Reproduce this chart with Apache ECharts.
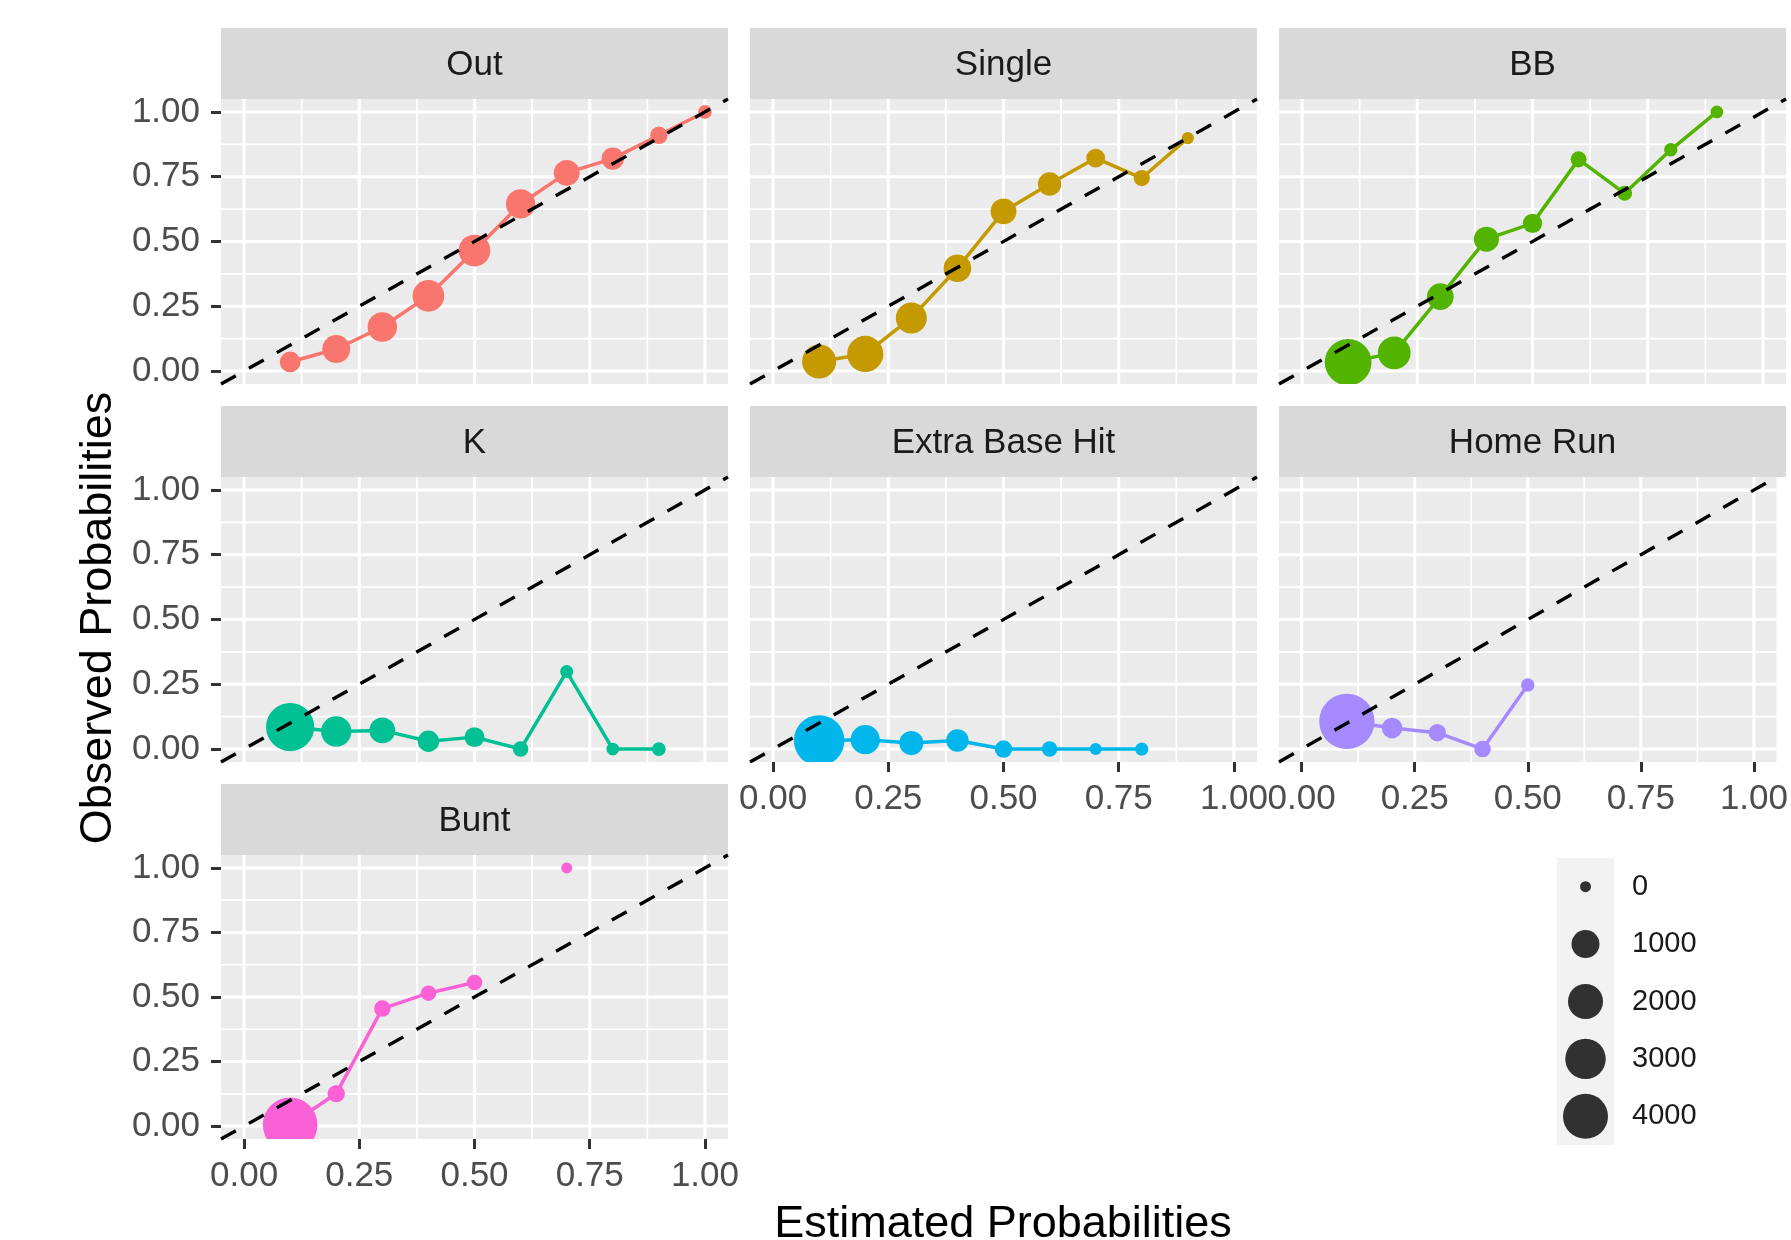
<!DOCTYPE html>
<html>
<head>
<meta charset="utf-8">
<title>Calibration of predicted plate-appearance outcomes</title>
<script src="https://cdn.jsdelivr.net/npm/echarts@6/dist/echarts.min.js"></script>
<style>
  html, body { margin: 0; padding: 0; background: #ffffff; }
  #chart { width: 1791px; height: 1240px; }
</style>
</head>
<body>
<div id="chart"></div>
<script>
// ---- data: estimated-probability bins, observed rate and count per bin ----
const estimatedBins = [0.1, 0.2, 0.3, 0.4, 0.5, 0.6, 0.7, 0.8, 0.9, 1.0];

const outObserved    = [0.035, 0.085, 0.17, 0.29, 0.465, 0.645, 0.765, 0.82, 0.91, 1.0];
const outCounts      = [330, 990, 1170, 1480, 1480, 1150, 760, 450, 140, 25];

const singleObserved = [0.037, 0.066, 0.205, 0.397, 0.616, 0.722, 0.822, 0.745, 0.899];
const singleCounts   = [1850, 2200, 1380, 950, 760, 530, 215, 95, 5];

const bbObserved     = [0.034, 0.07, 0.287, 0.509, 0.57, 0.817, 0.686, 0.854, 1.0];
const bbCounts       = [4400, 1630, 850, 680, 240, 87, 55, 20, 10];

const kObserved      = [0.085, 0.068, 0.072, 0.03, 0.046, 0.0, 0.299, 0.0, 0.0];
const kCounts        = [4790, 1290, 760, 375, 275, 70, 15, 10, 25];

const xbhObserved    = [0.033, 0.036, 0.023, 0.033, 0.0, 0.0, 0.0, 0.0];
const xbhCounts      = [5430, 1150, 595, 450, 140, 70, 4, 15];

const hrObserved     = [0.107, 0.081, 0.063, 0.0, 0.247];
const hrCounts       = [6800, 325, 140, 110, 20];

// the 0.6 bin is empty for bunts, so the line breaks there
const buntObserved   = [0.005, 0.126, 0.455, 0.515, 0.556, null, 1.0];
const buntCounts     = [6600, 140, 105, 70, 70, null, 0];

const outcomeNames  = ['Out', 'Single', 'BB', 'K', 'Extra Base Hit', 'Home Run', 'Bunt'];
const outcomeColors = ['#F8766D', '#C49A00', '#53B400', '#00C094', '#00B6EB', '#A58AFF', '#FB61D7'];

const tickValues  = [0, 0.25, 0.5, 0.75, 1];
const minorValues = [0.125, 0.375, 0.625, 0.875];
const sizeBreaks  = [0, 1000, 2000, 3000, 4000];

// ---- layout ----
const FONT = "'Liberation Sans', Arial, sans-serif";
const AX_MIN = -0.05, AX_MAX = 1.05;
const colBoxes = [{ left: 221, width: 507 }, { left: 750, width: 507 }, { left: 1279, width: 507 }];
const rowBoxes = [{ top: 99, height: 285 }, { top: 477, height: 285 }, { top: 855, height: 284 }];
const STRIP_H = 71;

// point diameter grows with the square root of the count
function pointSize(n) { return 11 + 17 * Math.sqrt(n / 1000); }

const panelData = [
  { obs: outObserved, n: outCounts },
  { obs: singleObserved, n: singleCounts },
  { obs: bbObserved, n: bbCounts },
  { obs: kObserved, n: kCounts },
  { obs: xbhObserved, n: xbhCounts },
  { obs: hrObserved, n: hrCounts },
  { obs: buntObserved, n: buntCounts }
];

const grids = [], xAxes = [], yAxes = [], series = [], graphics = [];

panelData.forEach((p, i) => {
  const row = Math.floor(i / 3), col = i % 3;
  const cb = colBoxes[col], rb = rowBoxes[row];
  const showY = col === 0;
  const showX = (i === 6 || i === 4 || i === 5);

  grids.push({
    left: cb.left, top: rb.top, width: cb.width, height: rb.height,
    show: true, backgroundColor: '#EBEBEB', borderWidth: 0
  });

  const labelStyle = { fontSize: 35, color: '#4D4D4D', fontFamily: FONT };
  xAxes.push({
    gridIndex: i, type: 'value', min: AX_MIN, max: AX_MAX,
    axisLine: { show: false, onZero: false },
    splitLine: { show: false },
    axisTick: { show: showX, customValues: tickValues, length: 10, lineStyle: { color: '#333333', width: 3 } },
    axisLabel: Object.assign({ show: showX, customValues: tickValues, margin: 20,
      formatter: v => Number(v).toFixed(2) }, labelStyle)
  });
  yAxes.push({
    gridIndex: i, type: 'value', min: AX_MIN, max: AX_MAX,
    axisLine: { show: false, onZero: false },
    splitLine: { show: false },
    axisTick: { show: showY, customValues: tickValues, length: 10, lineStyle: { color: '#333333', width: 3 } },
    axisLabel: Object.assign({ show: showY, customValues: tickValues, margin: 21,
      formatter: v => Number(v).toFixed(2) }, labelStyle)
  });

  // panel grid lines (white), drawn as broken polylines
  const gridPath = vals => {
    const pts = [];
    vals.forEach(v => {
      pts.push([v, AX_MIN], [v, AX_MAX], [v, null]);
      pts.push([AX_MIN, v], [AX_MAX, v], [null, null]);
    });
    return pts;
  };
  series.push({
    type: 'line', xAxisIndex: i, yAxisIndex: i, z: 1, silent: true,
    data: gridPath(minorValues), showSymbol: false, connectNulls: false,
    lineStyle: { color: '#FFFFFF', width: 1.7 }
  });
  series.push({
    type: 'line', xAxisIndex: i, yAxisIndex: i, z: 1, silent: true,
    data: gridPath(tickValues), showSymbol: false, connectNulls: false,
    lineStyle: { color: '#FFFFFF', width: 3 }
  });

  // observed vs estimated line
  const linePts = p.obs.map((y, k) => [estimatedBins[k], y]);
  series.push({
    type: 'line', xAxisIndex: i, yAxisIndex: i, z: 2, silent: true,
    data: linePts, showSymbol: false, connectNulls: false,
    lineStyle: { color: outcomeColors[i], width: 3.5 }
  });

  // points sized by count, clipped to the panel
  const dotPts = [];
  p.obs.forEach((y, k) => { if (y !== null) dotPts.push([estimatedBins[k], y, p.n[k]]); });
  series.push({
    type: 'custom', xAxisIndex: i, yAxisIndex: i, z: 3, clip: true, silent: true,
    data: dotPts,
    encode: { x: 0, y: 1 },
    renderItem: (params, api) => {
      const c = api.coord([api.value(0), api.value(1)]);
      return {
        type: 'circle',
        shape: { cx: c[0], cy: c[1], r: pointSize(api.value(2)) / 2 },
        style: { fill: outcomeColors[i] }
      };
    }
  });

  // perfect-calibration reference line
  series.push({
    type: 'line', xAxisIndex: i, yAxisIndex: i, z: 4, silent: true,
    data: [[AX_MIN, AX_MIN], [AX_MAX, AX_MAX]], showSymbol: false,
    lineStyle: { color: '#000000', width: 3.4, type: [17, 15] }
  });

  // facet strip
  graphics.push({
    type: 'rect', left: cb.left, top: rb.top - STRIP_H, silent: true,
    shape: { width: cb.width, height: STRIP_H },
    style: { fill: '#D9D9D9' }
  });
  graphics.push({
    type: 'text', silent: true,
    x: cb.left + cb.width / 2, y: rb.top - STRIP_H / 2 + 2,
    style: { text: outcomeNames[i], fontSize: 35, fontFamily: FONT, fill: '#1A1A1A',
      textAlign: 'center', textVerticalAlign: 'middle' }
  });
});

// ---- size legend: one more small grid with a category axis ----
const legendIdx = grids.length;
grids.push({ left: 1557, top: 858, width: 57, height: 287, show: true, backgroundColor: '#F2F2F2', borderWidth: 0 });
xAxes.push({ gridIndex: legendIdx, type: 'value', min: -1, max: 1, show: false });
yAxes.push({
  gridIndex: legendIdx, type: 'category', data: sizeBreaks.map(String), inverse: true,
  position: 'right', axisLine: { show: false }, axisTick: { show: false }, splitLine: { show: false },
  axisLabel: { margin: 18, fontSize: 29, color: '#1A1A1A', fontFamily: FONT, align: 'left' }
});
series.push({
  type: 'scatter', xAxisIndex: legendIdx, yAxisIndex: legendIdx, silent: true,
  data: sizeBreaks.map(v => [0, String(v), v]),
  symbolSize: val => pointSize(val[2]),
  itemStyle: { color: '#000000' }
});

// ---- axis titles ----
graphics.push({
  type: 'text', silent: true, x: 1003, y: 1225,
  style: { text: 'Estimated Probabilities', fontSize: 45, fontFamily: FONT, fill: '#000000',
    textAlign: 'center', textVerticalAlign: 'middle' }
});
graphics.push({
  type: 'text', silent: true, x: 99, y: 618, rotation: Math.PI / 2,
  style: { text: 'Observed Probabilities', fontSize: 45, fontFamily: FONT, fill: '#000000',
    textAlign: 'center', textVerticalAlign: 'middle' }
});

const chart = echarts.init(document.getElementById('chart'), null, { renderer: 'canvas' });
chart.setOption({
  backgroundColor: '#FFFFFF',
  animation: false,
  grid: grids,
  xAxis: xAxes,
  yAxis: yAxes,
  series: series,
  graphic: graphics
});
</script>
</body>
</html>
